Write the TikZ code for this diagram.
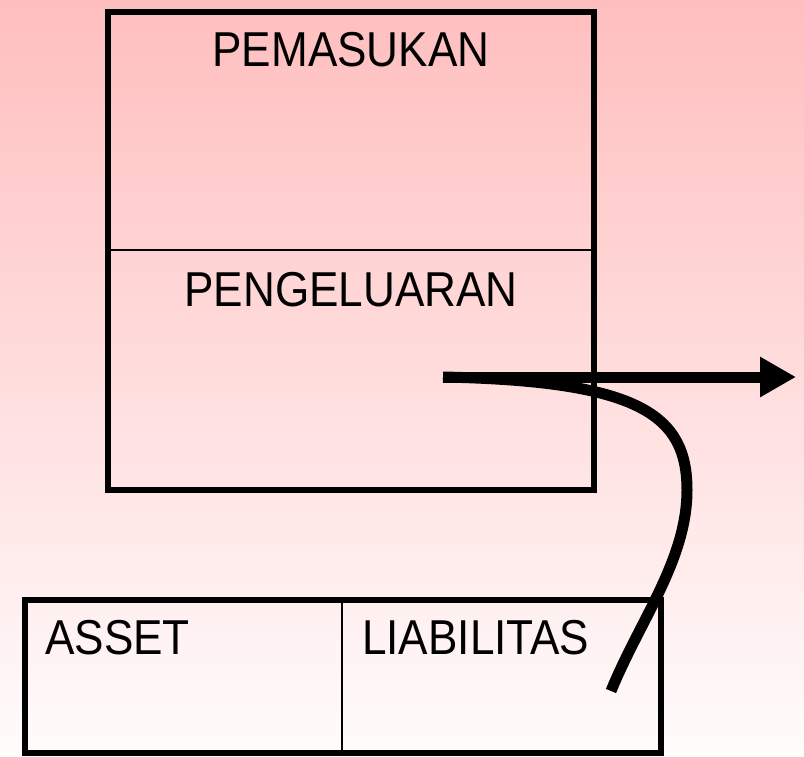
\documentclass[tikz,border=0pt]{standalone}
\usepackage{fontspec}
\setmainfont{Liberation Sans}
\usetikzlibrary{arrows.meta}
\NewDocumentCommand{\lbl}{m}{\scalebox{0.9}[1]{#1}}
\tikzset{/AK/S/frame/.style={
	draw=black, line width=6pt
}}
\tikzset{/AK/S/split/.style={
	draw=black, line width=2.5pt
}}
\tikzset{/AK/S/text/.style={
	inner sep=0pt, font=\fontsize{49}{58}\selectfont
}}
\tikzset{/AK/S/flow/.style={
	draw=black, line width=11pt
}}

\begin{document}
\begin{tikzpicture}[x=1pt, y=-1pt]
			\shade[top color={rgb,255:red,255;green,190;blue,190}, bottom color={rgb,255:red,255;green,252;blue,252}]
				(0,0) rectangle (804,756);
			\useasboundingbox (0,0) rectangle (804,756);
			% top box
			\path[/AK/S/split] (108,250) -- (594,250);
			\path[/AK/S/frame] (108,12) rectangle (594,490);
			\path (351,50) node[/AK/S/text] (in) {\lbl{PEMASUKAN}};
			\path (351,290) node[/AK/S/text] (out) {\lbl{PENGELUARAN}};
			% bottom box
			\path[/AK/S/split] (342,600) -- (342,753);
			\path[/AK/S/frame] (25,600) rectangle (661,753);
			\path (45,638) node[/AK/S/text, anchor=west] (asset) {\lbl{ASSET}};
			\path (362,638) node[/AK/S/text, anchor=west] (liab) {\lbl{LIABILITAS}};
			% flows
			\coordinate (start) at (443,377);
			\coordinate (tip) at (796,377);
			\coordinate (bend) at (687,490);
			\coordinate (end) at (611,691);
			\path[/AK/S/flow, -{Triangle[length=36pt, width=38pt]}] (start) -- (tip);
			\path[/AK/S/flow] (start) .. controls (640,381) and (687,415) .. (bend)
				.. controls (687,560) and (640,620) .. (end);
		\end{tikzpicture}
\end{document}
